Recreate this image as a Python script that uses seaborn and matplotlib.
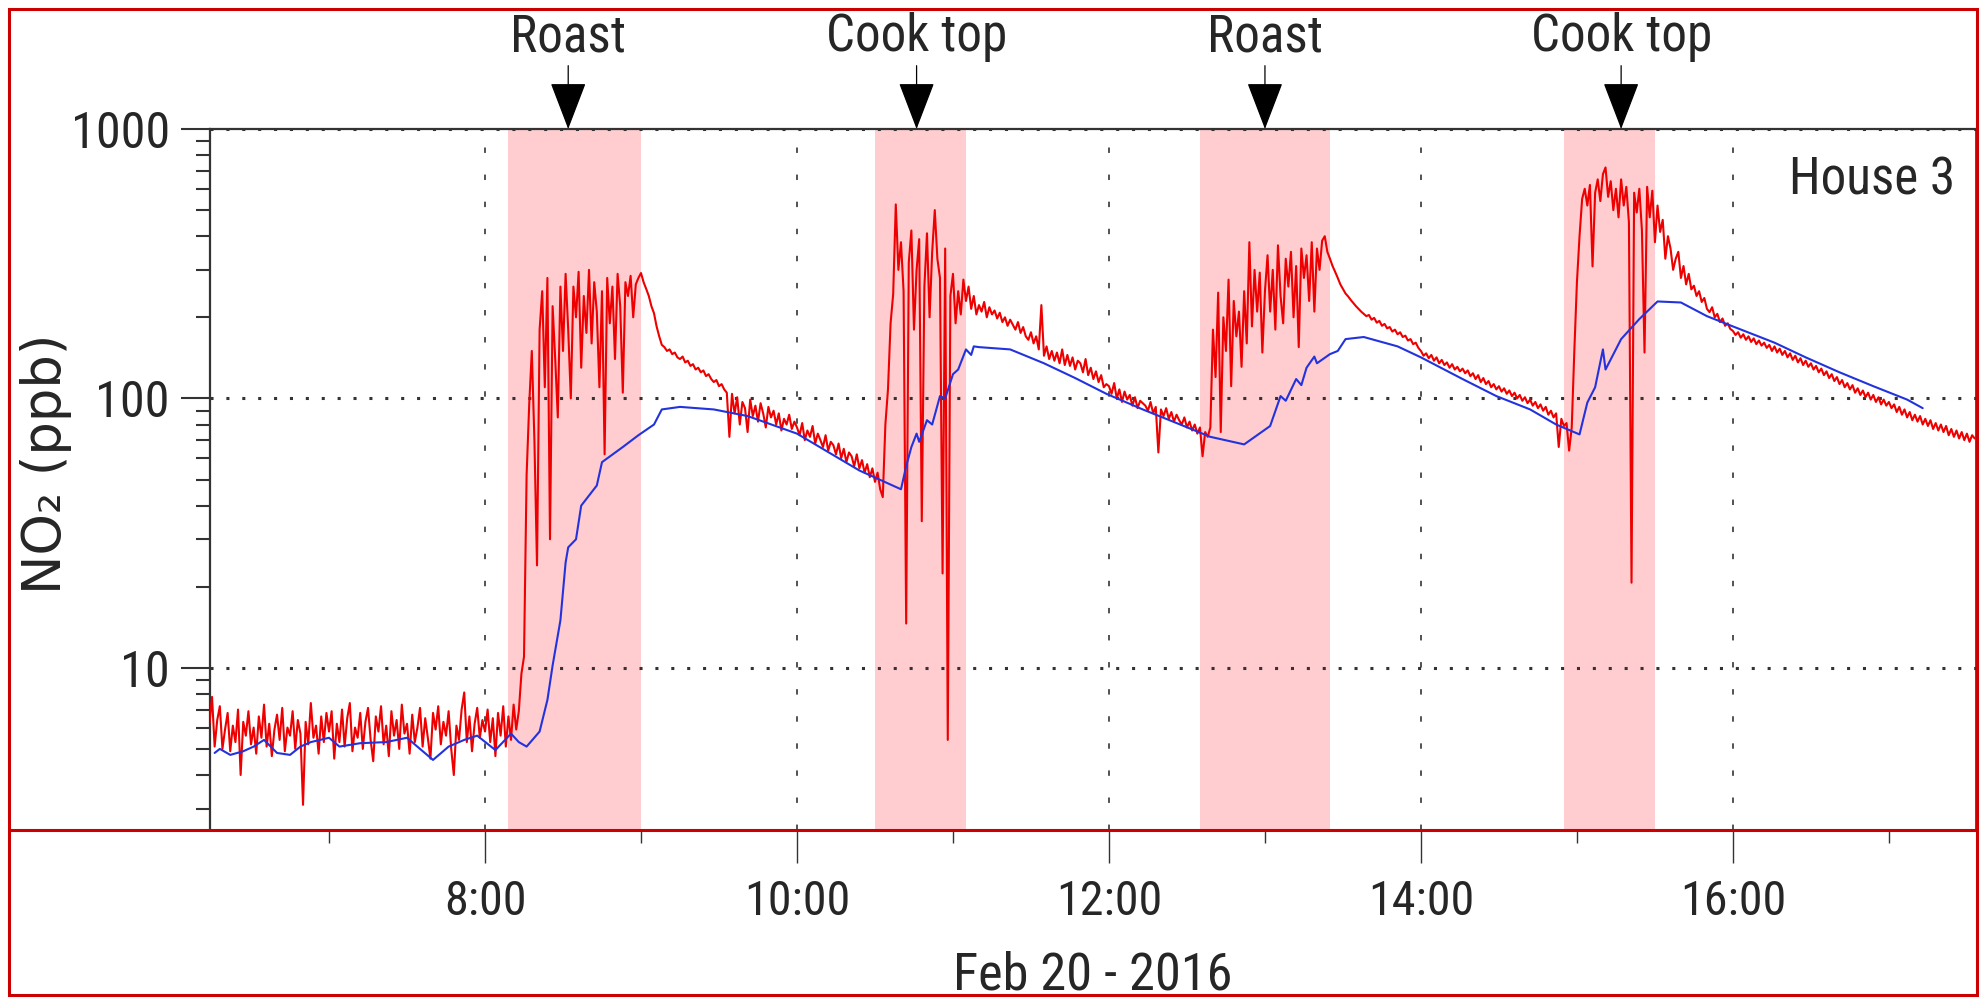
import os
import pandas as pd
import numpy as np
import matplotlib
matplotlib.use('Agg')
import matplotlib.pyplot as plt
import matplotlib.dates as mdates
from matplotlib import ticker
from matplotlib import font_manager as fm
from matplotlib.textpath import TextToPath
from matplotlib.patches import Rectangle
from matplotlib.lines import Line2D
import seaborn as sns

day = '2016-02-20 '

# NO2 (red trace), 1-minute readings, one list per clock hour
red_06 = [6.2, 7.8, 5.1, 6.4, 7.2, 5.0, 5.9, 6.8, 4.9, 6.1,
          5.3, 7.0, 4.0, 6.3, 5.6, 6.9, 5.2, 6.0, 4.8, 6.6,
          5.5, 7.3, 5.1, 6.2, 4.7, 5.9, 6.7, 5.4, 7.1, 4.9,
          6.0, 5.6, 6.9, 5.0, 6.4, 5.7, 3.1, 6.3, 5.2, 7.4,
          5.5, 6.1, 4.8, 6.6, 5.3, 6.8]
red_07 = [5.8, 6.9, 4.6, 6.2, 5.3, 7.0, 5.1, 6.5, 7.4, 4.9, 6.0, 5.5, 6.8, 5.0, 6.3,
          7.1, 5.4, 4.5, 6.6, 5.8, 7.2, 5.2, 6.1, 4.7, 6.9, 5.6, 6.4, 5.0, 7.3, 5.7,
          6.2, 4.8, 6.7, 5.3, 6.0, 7.1, 5.1, 6.5, 5.5, 4.6, 6.8, 5.9, 7.2, 5.2, 6.3,
          5.6, 6.9, 5.0, 4.0, 6.1, 5.4, 7.0, 8.1, 5.3, 6.6, 4.9, 6.2, 7.1, 5.5, 6.4]
red_08 = [5.8, 7.0, 5.3, 6.5, 4.7, 6.8, 5.6, 7.2, 5.1, 6.6, 5.4, 7.3, 5.9, 6.9, 9.5,
          11, 52, 95, 150, 70, 24, 180, 250, 110, 280, 30, 220, 140, 85, 260,
          150, 290, 180, 100, 260, 200, 295, 130, 240, 175, 300, 160, 270, 210, 110,
          250, 62, 280, 190, 260, 140, 290, 220, 105, 270, 240, 285, 200, 265, 280]
red_09 = [292, 270, 255, 240, 220, 207, 185, 170, 158, 155, 150, 152, 146, 148, 142,
          140, 143, 136, 138, 132, 134, 128, 130, 125, 127, 121, 123, 118, 115, 117,
          111, 113, 108, 105, 72, 104, 88, 101, 80, 97, 92, 75, 99, 86, 94,
          82, 96, 88, 78, 93, 85, 90, 80, 88, 76, 84, 80, 87, 77, 82]
red_10 = [78, 73, 81, 70, 76, 72, 79, 68, 74, 70, 66, 73, 64, 69, 67,
          62, 68, 60, 65, 58, 63, 61, 56, 62, 55, 59, 53, 57, 51, 55,
          49, 53, 46, 43, 80, 108, 190, 244, 525, 300, 380, 250, 14.6, 320, 420,
          180, 300, 390, 35, 260, 410, 200, 350, 500, 330, 280, 22.4, 360, 5.4, 240]
red_11 = [290, 190, 250, 205, 276, 230, 260, 215, 240, 205, 222, 210, 228, 200, 218,
          205, 212, 198, 208, 192, 200, 186, 196, 188, 180, 192, 175, 184, 170, 165,
          176, 160, 170, 152, 222, 144, 156, 140, 150, 138, 148, 135, 152, 133, 145,
          132, 142, 128, 138, 135, 125, 140, 122, 130, 118, 126, 115, 122, 110, 113]
red_12 = [111, 104, 114, 100, 108, 97, 106, 99, 103, 94, 101, 92, 98, 96, 94,
          90, 97, 88, 93, 63, 91, 86, 92, 84, 89, 82, 87, 83, 80, 85,
          78, 82, 76, 80, 74, 78, 61, 75, 72, 78, 180, 120, 247, 75, 200,
          150, 276, 111, 230, 170, 210, 131, 250, 160, 380, 185, 300, 210, 293, 148]
red_13 = [250, 340, 210, 300, 180, 370, 240, 190, 330, 260, 350, 200, 310, 155, 360,
          280, 340, 230, 380, 210, 360, 300, 385, 400, 350, 330, 310, 295, 280, 265,
          255, 245, 239, 232, 226, 220, 215, 210, 206, 202, 204, 196, 199, 191, 194,
          186, 189, 182, 184, 177, 180, 173, 176, 169, 171, 164, 166, 159, 161, 154]
red_14 = [150, 144, 147, 141, 145, 138, 142, 135, 139, 133, 136, 130, 134, 128, 131,
          126, 129, 124, 127, 121, 124, 118, 122, 115, 119, 113, 116, 110, 113, 108,
          111, 106, 109, 104, 107, 102, 105, 100, 103, 98, 101, 96, 99, 94, 97,
          92, 95, 90, 93, 87, 90, 85, 88, 66, 84, 79, 81, 64, 78, 150]
red_15 = [270, 400, 550, 600, 520, 620, 309, 580, 650, 540, 680, 720, 560, 640, 500,
          600, 470, 650, 520, 610, 450, 20.7, 580, 490, 600, 420, 148, 610, 470, 590,
          380, 520, 415, 460, 330, 400, 360, 300, 330, 350, 280, 310, 265, 290, 254,
          262, 240, 250, 228, 236, 215, 209, 218, 200, 206, 192, 198, 186, 190, 181]
red_16 = [178, 172, 176, 168, 173, 165, 170, 162, 167, 159, 164, 157, 161, 154, 158,
          150, 156, 148, 153, 145, 150, 142, 147, 139, 144, 136, 141, 133, 138, 131,
          135, 128, 132, 125, 129, 122, 126, 119, 123, 116, 120, 113, 117, 110, 114,
          108, 112, 105, 109, 103, 107, 101, 105, 99, 103, 97, 101, 95, 99, 94]
red_17 = [97, 92, 95, 89, 93, 87, 91, 85, 89, 83, 87, 82, 86, 80, 84,
          79, 83, 77, 81, 76, 80, 75, 79, 73, 77, 72, 76, 71, 75, 70,
          74, 69, 73, 71]
red_start = ['06:14', '07:00', '08:00', '09:00', '10:00', '11:00',
             '12:00', '13:00', '14:00', '15:00', '16:00', '17:00']

# smoothed NO2 (blue trace)
blue_time = ['06:16', '06:18', '06:22', '06:27', '06:31', '06:35', '06:40', '06:45', '06:49', '06:53',
             '07:00', '07:04', '07:12', '07:22', '07:30', '07:35', '07:40', '07:46', '07:52', '07:57',
             '08:04', '08:10', '08:13', '08:16', '08:21', '08:24', '08:26', '08:29', '08:31', '08:32',
             '08:35', '08:37', '08:43', '08:45', '08:53', '08:59',
             '09:05', '09:08', '09:15', '09:28', '09:41',
             '10:00', '10:24', '10:40', '10:42', '10:44', '10:46', '10:47', '10:50', '10:52', '10:55', '10:57',
             '11:00', '11:02', '11:05', '11:07', '11:08', '11:10', '11:22', '11:35', '11:47', '11:59',
             '12:13', '12:26', '12:39', '12:52',
             '13:02', '13:06', '13:08', '13:12', '13:14', '13:16', '13:19', '13:20', '13:25', '13:28',
             '13:31', '13:38', '13:51',
             '14:00', '14:16', '14:29', '14:42', '14:52',
             '15:01', '15:04', '15:07', '15:10', '15:11', '15:17', '15:24', '15:31', '15:40', '15:50',
             '16:00', '16:16', '16:28', '16:41', '16:54',
             '17:07', '17:13']
blue_vals = [4.83, 5.0, 4.75, 4.9, 5.1, 5.4, 4.83, 4.75, 5.1, 5.3,
             5.5, 5.1, 5.25, 5.3, 5.5, 5.0, 4.55, 5.1, 5.4, 5.6,
             4.95, 5.7, 5.3, 5.1, 5.8, 7.6, 10.2, 15, 24.6, 28,
             30, 40, 47.5, 58, 66, 73,
             80, 91, 93, 91, 86,
             74, 54, 46, 56, 66, 74, 69, 83, 80, 102, 100,
             123, 128, 152, 145, 156, 155, 152, 135, 119, 104,
             91, 81, 72, 67.5,
             79, 102, 98, 118, 112, 130, 143, 135, 146, 150,
             166, 169, 156,
             142, 118, 102, 91, 80,
             73.5, 96.5, 110, 152, 128, 166, 197, 229, 227, 202,
             185, 161, 142, 125, 111,
             99, 92]

# cooking events
event_start = ['08:09', '10:30', '12:35', '14:55']
event_end = ['09:00', '11:05', '13:25', '15:30']
event_mark = ['08:32', '10:46', '13:00', '15:17']
event_label = ['Roast', 'Cook top', 'Roast', 'Cook top']

red_lists = [red_06, red_07, red_08, red_09, red_10, red_11, red_12, red_13, red_14, red_15, red_16, red_17]
red = pd.concat([pd.DataFrame({'time': pd.date_range(day + s, periods=len(v), freq='min'), 'no2': v})
                 for s, v in zip(red_start, red_lists)], ignore_index=True)
blue = pd.DataFrame({'time': pd.to_datetime([day + t for t in blue_time]), 'no2': blue_vals})

sns.set_style('ticks')
plt.rcParams['font.family'] = ['Liberation Sans', 'DejaVu Sans']


def condensed_font():
    # prefer Helvetica/Arial-narrow look-alikes, then any plain condensed sans
    liked = ['liberation sans narrow', 'nimbus sans narrow', 'nimbussansnarrow', 'arial narrow',
             'helvetica', 'roboto condensed', 'archivo narrow', 'arimo']
    found = []
    for f in fm.fontManager.ttflist:
        nm = (f.name + ' ' + os.path.basename(f.fname)).lower()
        st = str(f.stretch).lower()
        if f.style != 'normal' or str(f.weight).lower() not in ('400', 'normal', 'regular', 'book'):
            continue
        if any(k in nm for k in ['bold', 'italic', 'oblique', 'light', 'thin', 'medium', 'black',
                                 'mono', 'cjk', 'semibold', 'serif']):
            continue
        if 'narrow' in nm:
            rank = 0
        elif ('condensed' in nm or st == 'condensed') and not any(k in nm for k in ['semi', 'extra', 'ultra']):
            rank = 1
        elif 'semi' in st or 'semicondensed' in nm.replace(' ', '').replace('-', ''):
            rank = 2
        else:
            continue
        pref = next((i for i, k in enumerate(liked) if k in nm), len(liked))
        found.append((pref, rank, 'sans' not in nm, f.fname))
    found.sort()
    return found[0][3] if found else None


cpath = condensed_font()
base_fp = fm.FontProperties(fname=cpath) if cpath else fm.FontProperties(family=['Liberation Sans', 'DejaVu Sans'])
t2p = TextToPath()


def fit(s, width_px, max_pt):
    p = base_fp.copy()
    p.set_size(100)
    w = t2p.get_text_width_height_descent(s, p, ismath=False)[0]
    size = 100 * width_px * 0.72 / w
    q = base_fp.copy()
    q.set_size(min(size, max_pt))
    return q


fp_ytick = fit('1000', 99, 40)
fp_xtick = fit('10:00', 106, 42)
fp_event = fit('Cook top', 181, 40)
fp_house = fit('House 3', 166, 38)
fp_date = fit('Feb 20 - 2016', 280, 43)

W, H = 1980, 999
fig = plt.figure(figsize=(19.8, 9.99), dpi=100)
ax = fig.add_axes([210 / W, 1 - 830 / H, 1766 / W, 701 / H])

for s, e in zip(event_start, event_end):
    ax.axvspan(pd.Timestamp(day + s), pd.Timestamp(day + e), color='#FFCCD0', lw=0, zorder=0)

sns.lineplot(data=red, x='time', y='no2', ax=ax, color='#EE0000', lw=1.5,
             estimator=None, sort=False, zorder=3)
sns.lineplot(data=blue, x='time', y='no2', ax=ax, color='#2233DD', lw=1.5,
             estimator=None, sort=False, zorder=4)

ax.set_yscale('log')
ax.set_ylim(2.5, 1000)
ax.set_xlim(pd.Timestamp(day + '06:14:13'), pd.Timestamp(day + '17:33:30'))

ax.xaxis.set_major_locator(mdates.HourLocator(byhour=range(0, 24, 2)))
ax.xaxis.set_minor_locator(mdates.HourLocator(byhour=range(1, 24, 2)))
ax.xaxis.set_major_formatter(ticker.FuncFormatter(
    lambda v, p: '%d:%02d' % (mdates.num2date(v).hour, mdates.num2date(v).minute)))
ax.yaxis.set_major_locator(ticker.FixedLocator([10, 100, 1000]))
ax.yaxis.set_minor_locator(ticker.LogLocator(base=10, subs=np.arange(2, 10)))
ax.yaxis.set_major_formatter(ticker.FuncFormatter(lambda v, p: '%d' % v))
ax.yaxis.set_minor_formatter(ticker.NullFormatter())

ax.yaxis.grid(True, which='major', ls=(0, (1, 4.2)), lw=2.2, color='#333333')
ax.xaxis.grid(True, which='major', ls=(0, (3, 12)), lw=1.3, color='#444444')

xs = fp_xtick.get_size()
ax.tick_params(axis='y', which='major', length=21, width=1.5, pad=8, color='#333333')
ax.tick_params(axis='y', which='minor', length=10, width=1.5, color='#333333')
ax.tick_params(axis='x', which='major', length=24, width=1, pad=0.72 * (33 - xs / 2), color='#333333')
ax.tick_params(axis='x', which='minor', length=9, width=1, color='#333333')

for side in ['top', 'left']:
    ax.spines[side].set_visible(True)
    ax.spines[side].set_linewidth(1.6)
    ax.spines[side].set_color('#333333')
ax.spines['right'].set_visible(True)
ax.spines['right'].set_linewidth(1.2)
ax.spines['right'].set_color('#333333')
ax.spines['bottom'].set_visible(False)

ax.set_xlabel('')
ax.set_ylabel('NO₂ (ppb)', family=['DejaVu Sans'], fontsize=38)
ax.yaxis.set_label_coords(-0.078, 0.522)

hs = fp_house.get_size()
ax.text(1955 / W, 1 - (176 + hs / 2) / H, 'House 3', transform=fig.transFigure,
        ha='right', va='baseline', fontproperties=fp_house)

es = fp_event.get_size()
for m, lbl in zip(event_mark, event_label):
    xm = mdates.date2num(pd.Timestamp(day + m))
    ax.annotate(lbl, xy=(xm, 1.0), xycoords=('data', 'axes fraction'),
                xytext=(xm, 1 - (33 + es / 2) / H), textcoords=('data', 'figure fraction'),
                ha='center', va='baseline', fontproperties=fp_event, annotation_clip=False,
                arrowprops=dict(arrowstyle='-|>,head_length=0.68,head_width=0.26',
                                mutation_scale=45, color='black', lw=0.9,
                                shrinkA=0, shrinkB=0))

ds = fp_date.get_size()
fig.text(1093 / W, 1 - (971 + ds / 2) / H, 'Feb 20 - 2016', ha='center', va='baseline',
         fontproperties=fp_date)

# red frame and divider of the source image
fig.add_artist(Rectangle((9 / W, 1 - 995 / H), 1968 / W, 986 / H,
                         transform=fig.transFigure, fill=False, ec='#CC0000', lw=2.2))
fig.add_artist(Line2D([9 / W, 1977 / W], [1 - 830 / H, 1 - 830 / H],
                      transform=fig.transFigure, color='#CC0000', lw=2.2))

fig.canvas.draw()
for lbl in ax.get_xticklabels():
    lbl.set_fontproperties(fp_xtick)
for lbl in ax.get_yticklabels():
    lbl.set_fontproperties(fp_ytick)

fig.savefig('out.png', dpi=100)
